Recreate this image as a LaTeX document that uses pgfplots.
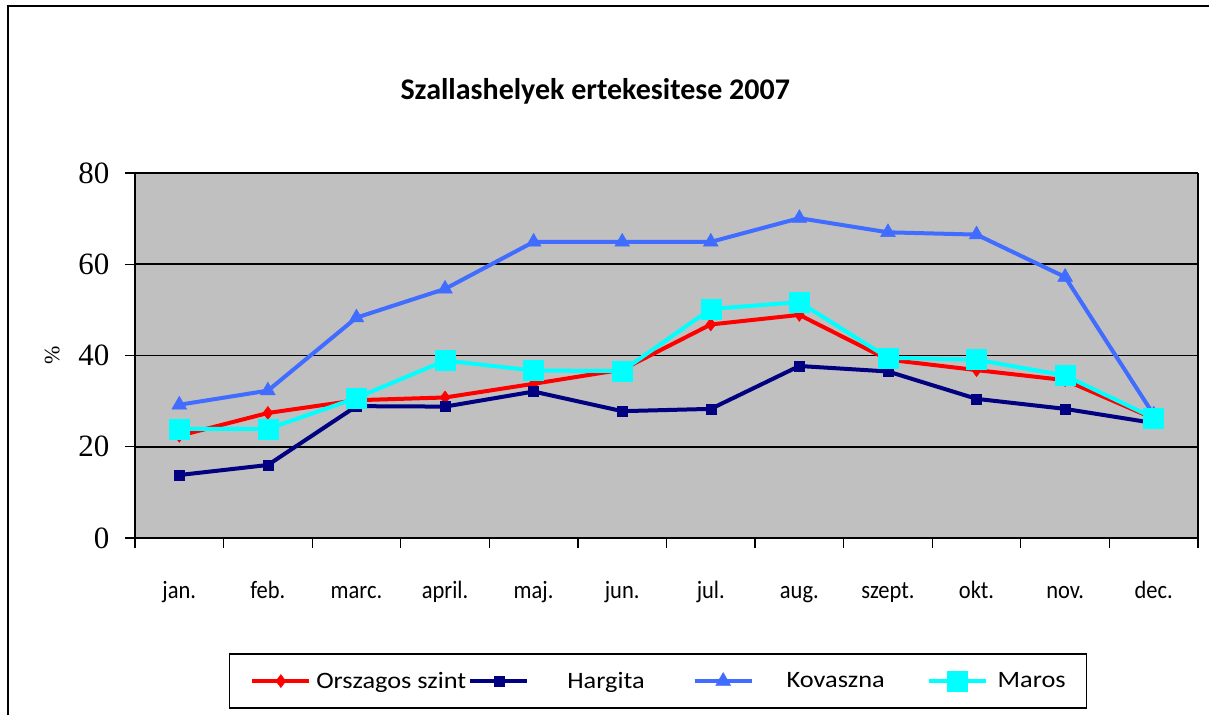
\documentclass[border=0pt]{standalone}
\usepackage{pgfplots}
\pgfplotsset{compat=1.18}
\usepackage{fontspec}
\setmainfont{Carlito}
\newfontfamily\serifnum{Liberation Serif}
\newfontfamily\legfont[FakeStretch=1.12]{Carlito}
\newfontfamily\tickfont[FakeStretch=0.9]{Carlito}
\definecolor{bgray}{RGB}{192,192,192}
\definecolor{kblue}{RGB}{64,108,255}
\definecolor{navyc}{RGB}{0,0,128}
\definecolor{cyanc}{RGB}{0,255,255}
\begin{document}
\begin{tikzpicture}[x=1pt,y=1pt]
\path[use as bounding box] (0,0) rectangle (1209,715);
\draw[line width=2pt] (8,0) -- (8,709) -- (1209,709);
\begin{axis}[
  at={(135pt,177pt)}, anchor=south west,
  scale only axis, width=1063pt, height=365pt,
  xmin=0, xmax=12, ymin=0, ymax=80,
  axis background/.style={fill=bgray},
  axis line style={black, line width=1.2pt},
  separate axis lines,
  xtick={0.5,1.5,...,11.5},
  xticklabels={jan.,feb.,marc.,april.,maj.,jun.,jul.,aug.,szept.,okt.,nov.,dec.},
  major x tick style={draw=none},
  minor xtick={0,1,...,12},
  minor x tick style={black, line width=1.2pt},
  minor tick length=10pt,
  xtick pos=bottom,
  xticklabel style={font=\tickfont\fontsize{25}{25}\selectfont, yshift=-50pt, anchor=base},
  ytick={0,20,40,60,80},
  ytick pos=left,
  major y tick style={black, line width=1.2pt},
  major tick length=10pt,
  tick align=outside,
  yticklabel style={font=\serifnum\fontsize{31}{31}\selectfont, xshift=-12pt},
  /pgf/number format/assume math mode=true,
  ymajorgrids, grid style={black, line width=1.6pt},
  ylabel={\serifnum\%},
  ylabel style={font=\fontsize{22}{22}\selectfont, at={(axis description cs:-0.078,0.5)}, anchor=center},
  title={\bfseries Szallashelyek ertekesitese 2007},
  title style={font=\fontsize{30}{30}\selectfont, at={(0.433,1.207)}, anchor=center},
  legend columns=4,
  legend style={at={(0.492,-0.392)}, anchor=center, draw=black, line width=1.2pt, fill=white,
    font=\legfont\fontsize{23.5}{24}\selectfont, inner xsep=21pt, inner ysep=17pt,
    nodes={inner sep=0pt},
    /tikz/every odd column/.append style={column sep=0pt},
    /tikz/every even column/.append style={column sep=0pt}},
  legend image code/.code={\draw[#1,line width=4pt] (0pt,0) -- (57pt,0); \draw[#1,mark repeat=2,mark phase=2] plot coordinates {(0pt,0) (28.5pt,0) (57pt,0)};},
  clip=false,
]
\addplot[red, line width=4pt, mark=diamond*, mark size=6.5pt, mark options={solid, line width=0.5pt}] coordinates {
(0.5,22.4) (1.5,27.4) (2.5,30.2) (3.5,30.8) (4.5,33.8) (5.5,36.9) (6.5,46.8) (7.5,48.9) (8.5,39.1) (9.5,36.8) (10.5,34.6) (11.5,26.2)};
\addlegendentry{\hspace*{5pt}Orszagos szint\hspace*{2pt}}
\addplot[navyc, line width=4pt, mark=square*, mark size=5pt, mark options={solid, line width=0.5pt}] coordinates {
(0.5,13.8) (1.5,16.0) (2.5,28.9) (3.5,28.8) (4.5,32.1) (5.5,27.8) (6.5,28.3) (7.5,37.7) (8.5,36.5) (9.5,30.5) (10.5,28.3) (11.5,25.2)};
\addlegendentry{\hspace*{38pt}Hargita\hspace*{48pt}}
\addplot[kblue, line width=4pt, mark=triangle*, mark size=8.5pt, mark options={solid, line width=0.5pt}] coordinates {
(0.5,29.2) (1.5,32.3) (2.5,48.3) (3.5,54.6) (4.5,64.9) (5.5,64.9) (6.5,64.9) (7.5,70.1) (8.5,67.0) (9.5,66.5) (10.5,57.2) (11.5,27.0)};
\addlegendentry{\hspace*{33pt}Kovaszna\hspace*{42pt}}
\addplot[cyanc, line width=4pt, mark=square*, mark size=10pt, mark options={solid, line width=0.5pt}] coordinates {
(0.5,23.9) (1.5,23.9) (2.5,30.7) (3.5,38.9) (4.5,36.7) (5.5,36.6) (6.5,50.2) (7.5,51.7) (8.5,39.5) (9.5,39.1) (10.5,35.6) (11.5,26.3)};
\addlegendentry{\hspace*{10pt}Maros}
\end{axis}
\end{tikzpicture}
\end{document}
